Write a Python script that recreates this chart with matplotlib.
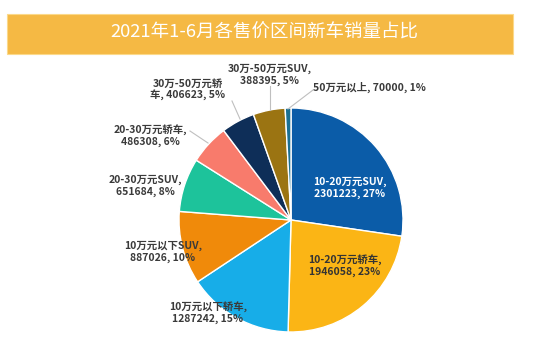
import matplotlib
matplotlib.use('Agg')
import matplotlib.pyplot as plt
from matplotlib.patches import Rectangle

plt.rcParams['font.family'] = ['Noto Sans CJK SC', 'DejaVu Sans']

title = '2021年1-6月各售价区间新车销量占比'
names = ['10-20万元SUV', '10-20万元轿车', '10万元以下轿车', '10万元以下SUV',
         '20-30万元SUV', '20-30万元轿车', '30万-50万元轿车', '30万-50万元SUV', '50万元以上']
sales = [2301223, 1946058, 1287242, 887026, 651684, 486308, 406623, 388395, 70000]
pcts = ['27%', '23%', '15%', '10%', '8%', '6%', '5%', '5%', '1%']
colors = ['#0B5CA8', '#FBB515', '#17ADE8', '#F08A0A', '#1DC39B', '#F87B6C',
          '#0E2E58', '#9B7412', '#1B7092']

W, H = 558, 351
fig = plt.figure(figsize=(W / 100, H / 100), dpi=100)
fig.patch.set_facecolor('white')

# title band
fig.patches.append(Rectangle((7 / W, 1 - 54 / H), 506 / W, 40 / H,
                             transform=fig.transFigure, facecolor='#F5B944',
                             edgecolor='#FBD98A', lw=0.8))
fig.text(264 / W, 1 - 33 / H, title, color='white', fontsize=13.3,
         ha='center', va='center')

ax = fig.add_axes([0, 0, 1, 1])
cx, cy, r = 291, H - 220, 112
ax.pie(sales, colors=colors, startangle=90, counterclock=False,
       center=(cx, cy), radius=r, frame=True,
       wedgeprops=dict(edgecolor='white', linewidth=1))
ax.set_xlim(0, W)
ax.set_ylim(0, H)
ax.set_aspect('equal')
ax.axis('off')

labels = [f'{n},\n{v}, {p}' for n, v, p in zip(names, sales, pcts)]
labels[6] = f'30万-50万元轿\n车, {sales[6]}, {pcts[6]}'
labels[8] = f'{names[8]}, {sales[8]}, {pcts[8]}'

# label centres (pixel coords) and leader lines
pos = [(350, 188), (345, 266), (208, 313), (163, 252), (145, 186),
       (150, 136), (188, 90), (270, 75), (369, 87)]
leaders = {5: [(190, 131), (208, 143)],
           6: [(232, 101), (240, 119)],
           7: [(270, 86), (270, 110)],
           8: [(313, 90), (288, 109)]}
tcol = ['white'] + ['#3A3A3A'] * 8
tcol[1] = '#333333'

for i, (lab, (x, y)) in enumerate(zip(labels, pos)):
    ax.text(x, H - y, lab, ha='center', va='center', fontsize=7.5,
            color=tcol[i], fontweight='bold', linespacing=1.15)
    if i in leaders:
        (x0, y0), (x1, y1) = leaders[i]
        ax.plot([x0, x1], [H - y0, H - y1], color='#BFBFBF', lw=0.8)

fig.savefig('out.png', dpi=100)
